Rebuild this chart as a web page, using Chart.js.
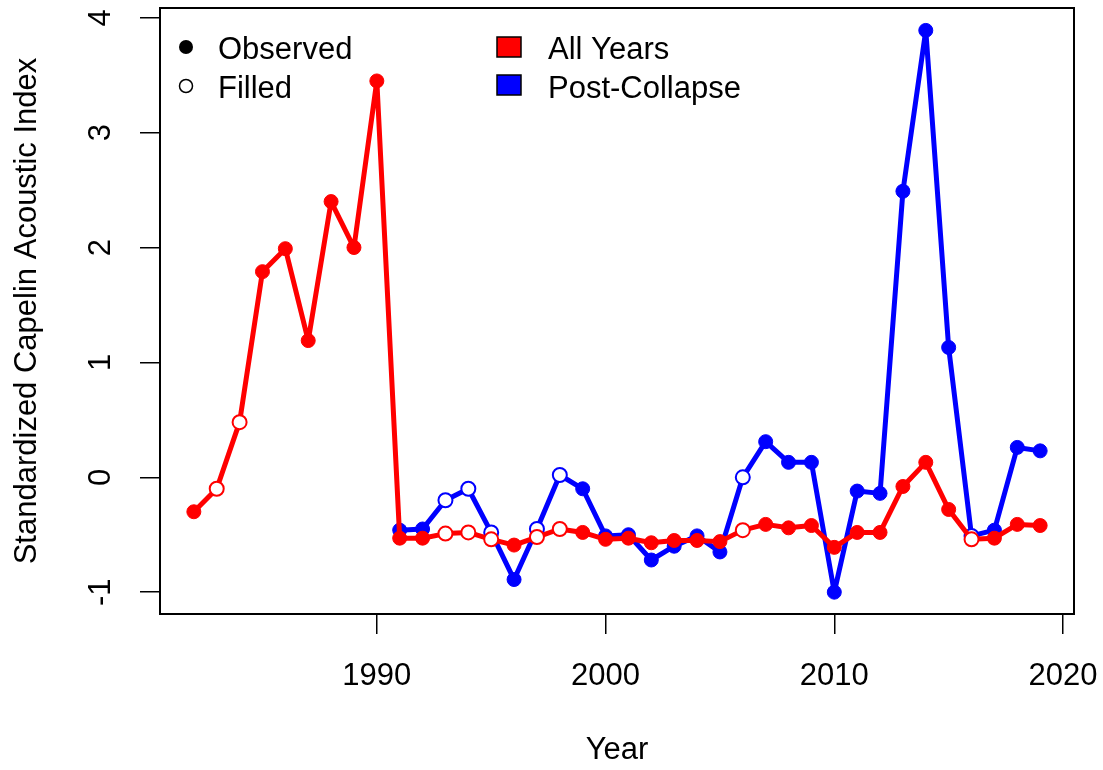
<!DOCTYPE html>
<html lang="en">
<head>
<meta charset="UTF-8">
<title>Capelin Acoustic Index</title>
<script src="https://cdn.jsdelivr.net/npm/chart.js"></script>
<style>
    body { margin: 0; background: #fff; }
    #wrap { width: 1103px; height: 770px; }
</style>
</head>
<body>
<div id="wrap"><canvas id="capelinChart" width="1103" height="770"></canvas></div>
<script>
    const years = [1982, 1983, 1984, 1985, 1986, 1987, 1988, 1989, 1990, 1991,
                   1992, 1993, 1994, 1995, 1996, 1997, 1998, 1999, 2000, 2001,
                   2002, 2003, 2004, 2005, 2006, 2007, 2008, 2009, 2010, 2011,
                   2012, 2013, 2014, 2015, 2016, 2017, 2018, 2019];

    // standardized over all years
    const allYears = [-0.30, -0.10, 0.48, 1.79, 1.99, 1.19, 2.40, 2.00, 3.45, -0.53,
                      -0.53, -0.49, -0.48, -0.54, -0.59, -0.52, -0.45, -0.48, -0.54, -0.53,
                      -0.57, -0.55, -0.55, -0.56, -0.46, -0.41, -0.44, -0.42, -0.61, -0.48,
                      -0.48, -0.08, 0.13, -0.28, -0.54, -0.53, -0.41, -0.42];

    // standardized over post-collapse years only (1991 on)
    const postCollapse = [null, null, null, null, null, null, null, null, null, -0.46,
                          -0.45, -0.20, -0.10, -0.48, -0.89, -0.45, 0.02, -0.10, -0.51, -0.50,
                          -0.72, -0.60, -0.51, -0.65, 0.00, 0.31, 0.13, 0.13, -1.00, -0.12,
                          -0.14, 2.49, 3.89, 1.13, -0.51, -0.46, 0.26, 0.23];

    // years with no survey, value filled in
    const filledYears = [1983, 1984, 1993, 1994, 1995, 1997, 1998, 2006, 2016];

    const xTicks = [1990, 2000, 2010, 2020];
    const yTicks = [-1, 0, 1, 2, 3, 4];

    const FONT = '"Liberation Sans", Arial, sans-serif';
    Chart.defaults.font.family = FONT;
    Chart.defaults.color = '#000';

    const isFilled = c => c.raw && filledYears.includes(c.raw.x);

    function series(label, values, color) {
        return {
            label: label,
            data: years.map((yr, i) => ({ x: yr, y: values[i] })),
            borderColor: color,
            borderWidth: 5,
            borderJoinStyle: 'round',
            borderCapStyle: 'round',
            tension: 0,
            pointRadius: 7,
            pointHoverRadius: 7,
            pointBackgroundColor: c => isFilled(c) ? '#fff' : color,
            pointBorderColor: color,
            pointBorderWidth: c => isFilled(c) ? 2 : 1,
        };
    }

    // box, y labels parallel to the axis, legend
    const frame = {
        id: 'frame',
        afterDraw(chart) {
            const { ctx, chartArea: a, scales: { y } } = chart;
            ctx.save();
            ctx.strokeStyle = '#000';
            ctx.lineWidth = 2;
            ctx.strokeRect(a.left, a.top, a.right - a.left, a.bottom - a.top);

            ctx.fillStyle = '#000';
            ctx.font = '31px ' + FONT;
            ctx.textAlign = 'center';
            ctx.textBaseline = 'alphabetic';
            y.ticks.forEach(t => {
                ctx.save();
                ctx.translate(110, y.getPixelForValue(t.value));
                ctx.rotate(-Math.PI / 2);
                ctx.fillText(String(t.value), 0, 0);
                ctx.restore();
            });

            // legend
            ctx.textAlign = 'left';
            ctx.beginPath();
            ctx.arc(186, 47, 7, 0, Math.PI * 2);
            ctx.fill();
            ctx.beginPath();
            ctx.arc(186, 86, 6.5, 0, Math.PI * 2);
            ctx.fillStyle = '#fff';
            ctx.fill();
            ctx.lineWidth = 1.5;
            ctx.stroke();
            ctx.fillStyle = '#000';
            ctx.fillText('Observed', 218, 59);
            ctx.fillText('Filled', 218, 98);

            [['All Years', '#ff0000', 37, 59], ['Post-Collapse', '#0000ff', 75, 98]].forEach(([txt, col, ry, by]) => {
                ctx.fillStyle = col;
                ctx.fillRect(497, ry, 24, 20);
                ctx.strokeRect(497, ry, 24, 20);
                ctx.fillStyle = '#000';
                ctx.fillText(txt, 548, by);
            });
            ctx.restore();
        }
    };

    const ctx = document.getElementById('capelinChart').getContext('2d');
    new Chart(ctx, {
        type: 'line',
        data: {
            datasets: [
                series('All Years', allYears, '#ff0000'),
                series('Post-Collapse', postCollapse, '#0000ff'),
            ],
        },
        options: {
            responsive: false,
            animation: false,
            devicePixelRatio: 1,
            layout: { padding: { top: 8, right: 29, left: 0, bottom: 0 } },
            plugins: { legend: { display: false }, tooltip: { enabled: false } },
            scales: {
                x: {
                    type: 'linear',
                    min: 1980.52,
                    max: 2020.48,
                    afterBuildTicks: s => { s.ticks = xTicks.map(v => ({ value: v })); },
                    afterFit: s => { s.height = 156; s.paddingLeft = 0; s.paddingRight = 0; },
                    grid: { drawOnChartArea: false, tickLength: 20, color: '#000', lineWidth: 1.5 },
                    border: { display: false },
                    ticks: { font: { size: 31 }, padding: 24, maxRotation: 0, callback: v => String(v) },
                    title: { display: true, text: 'Year', font: { size: 31 }, padding: { top: 0, bottom: 1 } },
                },
                y: {
                    min: -1.19,
                    max: 4.085,
                    afterBuildTicks: s => { s.ticks = yTicks.map(v => ({ value: v })); },
                    afterFit: s => { s.width = 160; s.paddingTop = 0; s.paddingBottom = 0; },
                    grid: { drawOnChartArea: false, tickLength: 20, color: '#000', lineWidth: 1.5 },
                    border: { display: false },
                    ticks: { display: false },
                    title: { display: true, text: 'Standardized Capelin Acoustic Index', font: { size: 31 }, padding: { top: 9, bottom: 0 } },
                },
            },
        },
        plugins: [frame],
    });
</script>
</body>
</html>
